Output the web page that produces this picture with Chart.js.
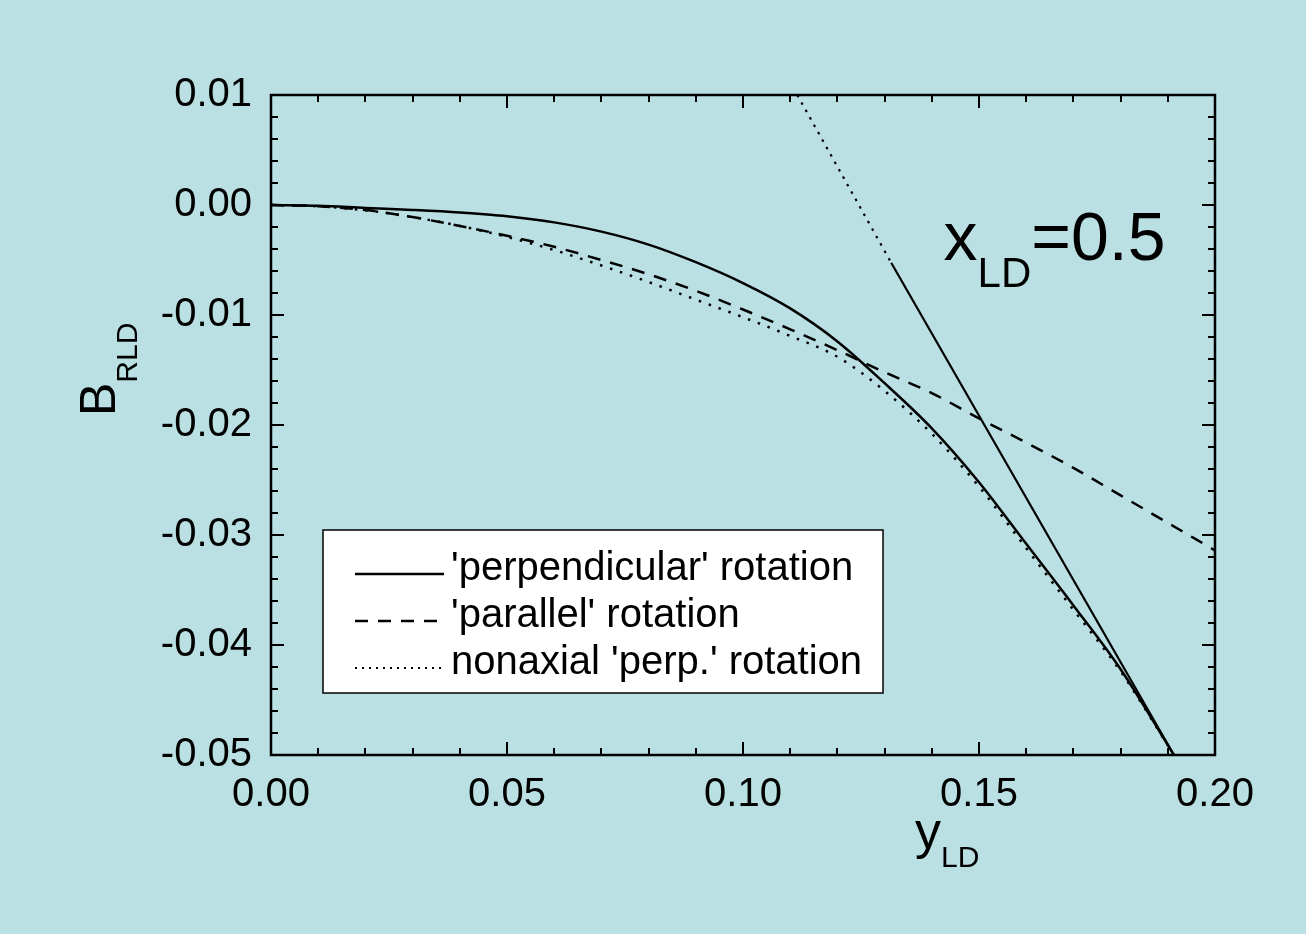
<!DOCTYPE html>
<html><head><meta charset="utf-8">
<script src="https://cdn.jsdelivr.net/npm/chart.js@4.4.0/dist/chart.umd.min.js"></script>
<style>html,body{margin:0;padding:0;background:#bae0e3;} #wrap{width:1306px;height:934px;}</style>
</head><body><div id="wrap"><canvas id="c" width="1306" height="934"></canvas></div>
<script>
// ---- data ----
const perpX = [0, 0.01, 0.02, 0.03, 0.04, 0.05, 0.06, 0.07, 0.08, 0.09, 0.10, 0.11, 0.12, 0.13, 0.14, 0.15, 0.16, 0.17, 0.18, 0.1913];
const perpY = [0, -0.00007, -0.00027, -0.00045, -0.00068, -0.00102, -0.00158, -0.00242, -0.0036, -0.0052, -0.0071, -0.0094, -0.0124, -0.0162, -0.0203, -0.0252, -0.0308, -0.0364, -0.0422, -0.05];
const paraX = [0, 0.01, 0.02, 0.03, 0.04, 0.05, 0.06, 0.07, 0.08, 0.09, 0.10, 0.11, 0.12, 0.13, 0.14, 0.15, 0.16, 0.17, 0.18, 0.19, 0.20];
const paraY = [0, -0.00012, -0.00045, -0.0011, -0.0019, -0.0028, -0.0038, -0.0050, -0.0063, -0.0078, -0.0095, -0.0113, -0.0132, -0.0152, -0.0171, -0.0194, -0.0216, -0.0239, -0.0264, -0.0289, -0.0314];
const nonaxX = [0, 0.01, 0.02, 0.03, 0.04, 0.05, 0.06, 0.07, 0.08, 0.09, 0.10, 0.11, 0.12, 0.13, 0.14, 0.15, 0.16, 0.17, 0.18, 0.1913];
const nonaxY = [0, -0.00012, -0.00048, -0.0011, -0.0019, -0.0029, -0.0041, -0.0055, -0.0070, -0.0086, -0.0102, -0.0119, -0.0138, -0.0169, -0.0208, -0.0256, -0.0312, -0.0368, -0.0424, -0.05];
const tangentDotX = [0.1115, 0.1314];
const tangentDotY = [0.01, -0.00525];
const tangentSolidX = [0.1314, 0.1913];
const tangentSolidY = [-0.00525, -0.05];
const xTickValues = [0, 0.05, 0.10, 0.15, 0.20];
const yTickValues = [0.01, 0, -0.01, -0.02, -0.03, -0.04, -0.05];
const legendLabels = ["'perpendicular' rotation", "'parallel' rotation", "nonaxial 'perp.' rotation"];
const xTitle = ['y', 'LD'];
const yTitle = ['B', 'RLD'];
const annotation = ['x', 'LD', '=0.5'];
const annotationAt = {x: 0.1425, y: -0.005};

const FONT = "'Liberation Sans', Arial, sans-serif";
const BG = '#bae0e3';
const zip = (xs, ys) => xs.map((x, i) => ({x: x, y: ys[i]}));
const fmt = v => (Math.abs(v) < 1e-9 ? 0 : v).toFixed(2);

const styles = [
  {dash: [], width: 2.5},
  {dash: [13, 10], width: 2.5},
  {dash: [2.5, 8], width: 2.5}
];

const deco = {
  id: 'deco',
  beforeDraw(chart) {
    const ctx = chart.ctx;
    ctx.save();
    ctx.fillStyle = BG;
    ctx.fillRect(0, 0, chart.width, chart.height);
    ctx.restore();
  },
  afterDatasetsDraw(chart) {
    const ctx = chart.ctx, a = chart.chartArea;
    const xs = chart.scales.x, ys = chart.scales.y;
    ctx.save();
    ctx.strokeStyle = '#000';
    ctx.lineWidth = 2.5;
    ctx.strokeRect(a.left, a.top, a.right - a.left, a.bottom - a.top);
    ctx.lineWidth = 2;
    ctx.beginPath();
    for (let i = 0; i <= 20; i++) {
      const v = i * 0.01;
      const p = Math.round(xs.getPixelForValue(v));
      const L = (i % 5 === 0) ? 13 : 7;
      ctx.moveTo(p, a.bottom); ctx.lineTo(p, a.bottom - L);
      ctx.moveTo(p, a.top); ctx.lineTo(p, a.top + L);
    }
    for (let i = 0; i <= 30; i++) {
      const v = -0.05 + i * 0.002;
      const p = Math.round(ys.getPixelForValue(v));
      const L = (i % 5 === 0) ? 13 : 7;
      ctx.moveTo(a.left, p); ctx.lineTo(a.left + L, p);
      ctx.moveTo(a.right, p); ctx.lineTo(a.right - L, p);
    }
    ctx.stroke();
    ctx.restore();
  },
  afterDraw(chart) {
    const ctx = chart.ctx;
    const xs = chart.scales.x, ys = chart.scales.y;
    ctx.save();
    ctx.fillStyle = '#000';
    ctx.textBaseline = 'alphabetic';
    // legend
    const bx = 323, by = 530, bw = 560, bh = 163;
    ctx.fillStyle = '#fff';
    ctx.fillRect(bx, by, bw, bh);
    ctx.strokeStyle = '#000';
    ctx.lineWidth = 1.5;
    ctx.strokeRect(bx, by, bw, bh);
    const rows = [580, 627, 674];
    legendLabels.forEach((t, i) => {
      ctx.save();
      ctx.strokeStyle = '#000';
      ctx.lineWidth = i === 2 ? 2 : 2.5;
      ctx.setLineDash(i === 2 ? [2, 5] : styles[i].dash);
      ctx.beginPath();
      ctx.moveTo(355, rows[i] - 6);
      ctx.lineTo(444, rows[i] - 6);
      ctx.stroke();
      ctx.restore();
      ctx.fillStyle = '#000';
      ctx.font = '40px ' + FONT;
      ctx.fillText(t, 451, rows[i]);
    });
    // annotation x_LD=0.5
    let ax = xs.getPixelForValue(annotationAt.x), ay = ys.getPixelForValue(annotationAt.y);
    ctx.font = '68px ' + FONT;
    ctx.fillText(annotation[0], ax, ay);
    ax += ctx.measureText(annotation[0]).width;
    ctx.font = '42px ' + FONT;
    ctx.fillText(annotation[1], ax, ay + 27);
    ax += ctx.measureText(annotation[1]).width;
    ctx.font = '68px ' + FONT;
    ctx.fillText(annotation[2], ax, ay);
    // x title
    let tx = 915, ty = 848;
    ctx.font = '52px ' + FONT;
    ctx.fillText(xTitle[0], tx, ty);
    tx += ctx.measureText(xTitle[0]).width;
    ctx.font = '30px ' + FONT;
    ctx.fillText(xTitle[1], tx, ty + 19);
    // y title
    ctx.translate(115, 416);
    ctx.rotate(-Math.PI / 2);
    ctx.font = '50px ' + FONT;
    ctx.fillText(yTitle[0], 0, 0);
    const wb = ctx.measureText(yTitle[0]).width;
    ctx.font = '30px ' + FONT;
    ctx.fillText(yTitle[1], wb, 22);
    ctx.restore();
  }
};

const mk = (xs, ys, dash, width) => ({
  data: zip(xs, ys), showLine: true, pointRadius: 0, borderColor: '#000',
  borderWidth: width, borderDash: dash, fill: false, cubicInterpolationMode: 'monotone'
});

new Chart(document.getElementById('c'), {
  type: 'scatter',
  data: {
    datasets: [
      Object.assign(mk(perpX, perpY, styles[0].dash, styles[0].width), {label: legendLabels[0]}),
      Object.assign(mk(paraX, paraY, styles[1].dash, styles[1].width), {label: legendLabels[1]}),
      Object.assign(mk(nonaxX, nonaxY, styles[2].dash, styles[2].width), {label: legendLabels[2]}),
      mk(tangentDotX, tangentDotY, [2.5, 6], 2.2),
      mk(tangentSolidX, tangentSolidY, [], 2.2)
    ]
  },
  options: {
    responsive: false, animation: false, events: [],
    layout: {padding: {top: 95, right: 91, left: 0, bottom: 0}},
    plugins: {legend: {display: false}, tooltip: {enabled: false}},
    scales: {
      x: {
        type: 'linear', min: 0, max: 0.2,
        grid: {display: false, drawTicks: false}, border: {display: false},
        ticks: {color: '#000', font: {size: 40, family: FONT}, padding: 16, maxRotation: 0, autoSkip: false, callback: v => fmt(v)},
        afterBuildTicks: s => { s.ticks = xTickValues.map(v => ({value: v})); },
        afterFit: s => { s.height = 179; }
      },
      y: {
        type: 'linear', min: -0.05, max: 0.01,
        grid: {display: false, drawTicks: false}, border: {display: false},
        ticks: {color: '#000', font: {size: 40, family: FONT}, padding: 19, autoSkip: false, callback: v => fmt(v)},
        afterBuildTicks: s => { s.ticks = yTickValues.map(v => ({value: v})); },
        afterFit: s => { s.width = 271; }
      }
    }
  },
  plugins: [deco]
});
</script>
</body></html>
